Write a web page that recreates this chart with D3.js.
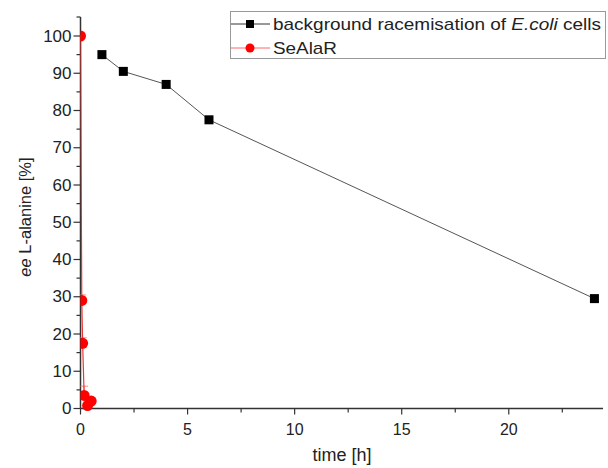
<!DOCTYPE html>
<html>
<head>
<meta charset="utf-8">
<script src="https://cdn.jsdelivr.net/npm/d3@7"></script>
<style>
body { margin: 0; background: #fff; }
svg { font-family: "Liberation Sans", Arial, sans-serif; }
</style>
</head>
<body>
<svg id="chart"></svg>
<script>
// background racemisation of E.coli cells
var ecoliTime = [1, 2, 4, 6, 24];
var ecoliEe = [95, 90.5, 87, 77.5, 29.5];

// SeAlaR
var alarTime = [0, 0.06, 0.1, 0.17, 0.33, 0.5];
var alarEe = [100, 29, 17.5, 3.5, 0.8, 2];
var alarErr = [0, 1.5, 1.5, 2.5, 0.5, 0.5];

var xTicks = [0, 5, 10, 15, 20];
var yTicks = [0, 10, 20, 30, 40, 50, 60, 70, 80, 90, 100];

var width = 608, height = 468;
var margin = { left: 80.5, right: 5, top: 17, bottom: 59 };

var svg = d3.select("#chart").attr("width", width).attr("height", height);

var x = d3.scaleLinear().domain([0, 24.4]).range([margin.left, width - margin.right]);
var y = d3.scaleLinear().domain([0, 100]).range([408.5, 36]);
var yTop = 17;

var axisColor = "#333";

// clip the data area at the y axis
svg.append("clipPath").attr("id", "plotClip").append("rect")
    .attr("x", x(0)).attr("y", 0).attr("width", width - x(0)).attr("height", y(0) + 8);

// x axis
var xAxis = svg.append("g").attr("transform", "translate(0," + 408.5 + ")");
xAxis.append("line").attr("x1", x(0)).attr("x2", x.range()[1]).attr("stroke", axisColor).attr("stroke-width", 1.5);
d3.range(0, 24.1, 2.5).forEach(function(t) {
    var major = t % 5 === 0;
    xAxis.append("line").attr("x1", x(t)).attr("x2", x(t)).attr("y1", 0).attr("y2", major ? 6 : 4)
        .attr("stroke", axisColor).attr("stroke-width", 1.2);
});
xAxis.selectAll(".xl").data(xTicks).enter().append("text")
    .attr("x", function(d) { return x(d); }).attr("y", 26)
    .attr("text-anchor", "middle").attr("font-size", 16).attr("fill", "#222")
    .text(function(d) { return d; });

// y axis
var yAxis = svg.append("g");
yAxis.append("line").attr("x1", x(0)).attr("x2", x(0)).attr("y1", yTop).attr("y2", y(0))
    .attr("stroke", axisColor).attr("stroke-width", 1.5);
yAxis.append("line").attr("x1", x(0) - 4).attr("x2", x(0)).attr("y1", yTop).attr("y2", yTop)
    .attr("stroke", axisColor).attr("stroke-width", 1.2);
d3.range(0, 101, 5).forEach(function(v) {
    var major = v % 10 === 0;
    yAxis.append("line").attr("x1", x(0) - (major ? 7 : 4)).attr("x2", x(0)).attr("y1", y(v)).attr("y2", y(v))
        .attr("stroke", axisColor).attr("stroke-width", 1.2);
});
yAxis.selectAll(".yl").data(yTicks).enter().append("text")
    .attr("x", x(0) - 9).attr("y", function(d) { return y(d) + 5.5; })
    .attr("text-anchor", "end").attr("font-size", 17).attr("fill", "#222")
    .text(function(d) { return d; });

// axis titles
svg.append("text").attr("x", 342).attr("y", 461).attr("text-anchor", "middle")
    .attr("font-size", 18).attr("fill", "#222").text("time [h]");
var yt = svg.append("text").attr("transform", "translate(31,217) rotate(-90)")
    .attr("text-anchor", "middle").attr("font-size", 16.5).attr("fill", "#222");
yt.append("tspan").attr("font-style", "italic").text("ee");
yt.append("tspan").text(" L-alanine [%]");

// E.coli series
var plot = svg.append("g").attr("clip-path", "url(#plotClip)");
var ecoli = ecoliTime.map(function(t, i) { return { t: t, v: ecoliEe[i] }; });
var line = d3.line().x(function(d) { return x(d.t); }).y(function(d) { return y(d.v); });
plot.append("path").datum(ecoli).attr("d", line).attr("fill", "none")
    .attr("stroke", "#555").attr("stroke-width", 1);
plot.selectAll(".sq").data(ecoli).enter().append("rect")
    .attr("x", function(d) { return x(d.t) - 4.5; }).attr("y", function(d) { return y(d.v) - 4.5; })
    .attr("width", 9).attr("height", 9).attr("fill", "#000");

// SeAlaR series
var alar = alarTime.map(function(t, i) { return { t: t, v: alarEe[i], e: alarErr[i] }; });
plot.selectAll(".err").data(alar).enter().append("line")
    .attr("x1", function(d) { return x(d.t); }).attr("x2", function(d) { return x(d.t); })
    .attr("y1", function(d) { return y(d.v - d.e); }).attr("y2", function(d) { return y(d.v + d.e); })
    .attr("stroke", "#f88").attr("stroke-width", 1);
plot.selectAll(".errcap").data(alar).enter().append("line")
    .attr("x1", function(d) { return x(d.t) - 4; }).attr("x2", function(d) { return x(d.t) + 4; })
    .attr("y1", function(d) { return y(d.v + d.e); }).attr("y2", function(d) { return y(d.v + d.e); })
    .attr("stroke", "#f88").attr("stroke-width", 1);
plot.append("path").datum(alar).attr("d", line).attr("fill", "none")
    .attr("stroke", "#e33").attr("stroke-width", 1.2);
plot.selectAll(".ci").data(alar).enter().append("circle")
    .attr("cx", function(d) { return x(d.t); }).attr("cy", function(d) { return y(d.v); })
    .attr("r", 5.5).attr("fill", "#f00");

// legend
var lg = svg.append("g");
lg.append("rect").attr("x", 230.5).attr("y", 11.5).attr("width", 375).attr("height", 47)
    .attr("fill", "#fff").attr("stroke", "#999").attr("stroke-width", 1);
lg.append("line").attr("x1", 231).attr("x2", 270).attr("y1", 24).attr("y2", 24).attr("stroke", "#333");
lg.append("rect").attr("x", 246).attr("y", 20).attr("width", 8).attr("height", 8).attr("fill", "#000");
lg.append("line").attr("x1", 231).attr("x2", 270).attr("y1", 48).attr("y2", 48).attr("stroke", "#f66");
lg.append("circle").attr("cx", 250).attr("cy", 48).attr("r", 4.5).attr("fill", "#f00");
var t1 = lg.append("text").attr("x", 273).attr("y", 30).attr("font-size", 17).attr("fill", "#222")
    .attr("textLength", 328).attr("lengthAdjust", "spacingAndGlyphs");
t1.append("tspan").text("background racemisation of ");
t1.append("tspan").attr("font-style", "italic").text("E.coli");
t1.append("tspan").text(" cells");
lg.append("text").attr("x", 273).attr("y", 54).attr("font-size", 17).attr("fill", "#222")
    .attr("textLength", 64).attr("lengthAdjust", "spacingAndGlyphs").text("SeAlaR");
</script>
</body>
</html>
